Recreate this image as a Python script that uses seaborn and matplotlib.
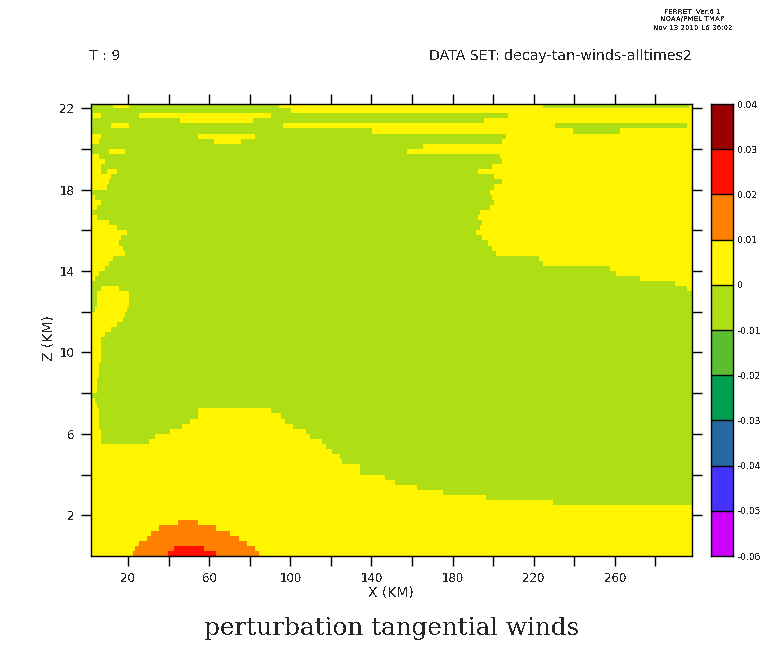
import numpy as np
import pandas as pd
import matplotlib.pyplot as plt
from matplotlib.colors import ListedColormap, BoundaryNorm
import seaborn as sns

# contour levels and colours of the key
levels = [-0.06, -0.05, -0.04, -0.03, -0.02, -0.01, 0, 0.01, 0.02, 0.03, 0.04]
level_labels = ["-0.06", "-0.05", "-0.04", "-0.03", "-0.02", "-0.01", "0", "0.01", "0.02", "0.03", "0.04"]
level_colors = ["#CC00FF", "#4433FF", "#2868A0", "#009E50", "#5DBD30", "#AEDE14",
                "#FFF500", "#FF8000", "#FF1000", "#990000"]

x_labels = [20, 60, 100, 140, 180, 220, 260]
x_ticks = [20, 40, 60, 80, 100, 120, 140, 160, 180, 200, 220, 240, 260, 280]
z_labels = [2, 6, 10, 14, 18, 22]
z_ticks = [2, 4, 6, 8, 10, 12, 14, 16, 18, 20, 22]

# height of each row of the field, top to bottom (KM)
z_rows = np.arange(22.125, 0, -0.25)

negative_spans = [
    [(1.5, 12.2), (21, 94.8), (224.6, 296.9)],
    [(1.5, 100)],
    [(1.5, 2.4), (6.2, 25.9), (90.2, 207.4)],
    [(1.5, 45), (82, 195)],
    [(1.5, 11.1), (21, 96.5), (231, 274), (275, 295)],
    [(1.5, 140), (240, 262)],
    [(6.5, 54), (83, 206.5)],
    [(5.4, 62), (76, 204)],
    [(1.5, 165)],
    [(1.5, 10.6), (18.5, 157)],
    [(6, 203)],
    [(8.6, 204)],
    [(7, 199.5)],
    [(6.2, 9.5), (14.9, 192.6)],
    [(11.9, 200.8)],
    [(10.3, 204.5)],
    [(9.1, 200.8)],
    [(1.5, 198.3)],
    [(3.7, 199)],
    [(6.2, 200)],
    [(4.5, 198)],
    [(2.9, 193.5)],
    [(4.5, 192.6)],
    [(10.3, 194.7)],
    [(14.4, 193.4)],
    [(19.3, 191)],
    [(16.9, 194.2)],
    [(16, 197.5)],
    [(18, 199.6)],
    [(19, 201.6)],
    [(12.8, 222)],
    [(10.8, 224.6)],
    [(8.2, 257.5)],
    [(5.7, 260.7)],
    [(3.4, 272)],
    [(1.8, 289.5)],
    [(1.5, 6.2), (15.2, 295)],
    [(1.5, 4.9), (20.1, 298.5)],
    [(1.5, 4.9), (20.1, 298.5)],
    [(1.5, 4.9), (20.1, 298.5)],
    [(1.5, 3.7), (20, 298.5)],
    [(18.5, 298.5)],
    [(17.2, 298.5)],
    [(14.4, 298.5)],
    [(11.1, 298.5)],
    [(9, 298.5)],
    [(7, 298.5)],
    [(6.2, 298.5)],
    [(6.4, 298.5)],
    [(6.2, 298.5)],
    [(6.2, 298.5)],
    [(6, 298.5)],
    [(5.7, 298.5)],
    [(5.4, 298.5)],
    [(5, 298.5)],
    [(4.7, 298.5)],
    [(4.2, 298.5)],
    [(1.5, 298.5)],
    [(3.7, 298.5)],
    [(5, 298.5)],
    [(5.9, 54), (91, 298.5)],
    [(5.9, 54), (96, 298.5)],
    [(5.7, 50), (98, 298.5)],
    [(5.4, 46.4), (102, 298.5)],
    [(6.2, 40), (108, 298.5)],
    [(6.5, 33), (110, 298.5)],
    [(7, 30), (116, 298.5)],
    [(117.5, 298.5)],
    [(121, 298.5)],
    [(124.5, 298.5)],
    [(126, 298.5)],
    [(134.5, 298.5)],
    [(135, 298.5)],
    [(147, 298.5)],
    [(152, 298.5)],
    [(163, 298.5)],
    [(176, 298.5)],
    [(197, 298.5)],
    [(230, 298.5)],
]

# the warm blob at the bottom, per height (KM)
orange_spans = {1.625: (45, 54), 1.375: (35.7, 63), 1.125: (32, 70), 0.875: (30, 74),
                0.625: (26, 78), 0.375: (23.5, 82), 0.125: (22.6, 84)}
red_spans = {0.375: (43, 57), 0.125: (40, 63)}

# build the field on a 1 km column grid
x_cols = np.arange(2.0, 299.0, 1.0)
field = np.full((len(z_rows), len(x_cols)), 0.005)
for i, spans in enumerate(negative_spans):
    for a, b in spans:
        field[i, (x_cols >= a) & (x_cols <= b)] = -0.005
for i, z in enumerate(z_rows):
    if z in orange_spans:
        a, b = orange_spans[z]
        field[i, (x_cols >= a) & (x_cols <= b)] = 0.015
    if z in red_spans:
        a, b = red_spans[z]
        field[i, (x_cols >= a) & (x_cols <= b)] = 0.025
df = pd.DataFrame(field, index=z_rows, columns=x_cols)

sns.set_style("ticks")
plt.rcParams["font.family"] = ["DejaVu Sans"]
plt.rcParams["text.antialiased"] = False

W, H = 768, 662
fig = plt.figure(figsize=(W / 100, H / 100), dpi=100)

cmap = ListedColormap(level_colors)
norm = BoundaryNorm(levels, cmap.N)

# main panel
ax = fig.add_axes([90.5 / W, 1 - 556 / H, 601.5 / W, 452 / H])
sns.heatmap(df, ax=ax, cmap=cmap, norm=norm, cbar=False, xticklabels=False, yticklabels=False)


def xpos(km):
    return km - 1.5


def ypos(km):
    return (22.25 - km) / 0.25


ax.set_xlim(0, xpos(298))
ax.set_ylim(ypos(0), ypos(22.2))
ax.set_xticks([xpos(v) for v in x_ticks])
ax.set_xticklabels([str(v) if v in x_labels else "" for v in x_ticks], rotation=0, fontsize=8.5)
ax.set_yticks([ypos(v) for v in z_ticks])
ax.set_yticklabels([str(v) if v in z_labels else "" for v in z_ticks], rotation=0, fontsize=8.5)
ax.tick_params(top=True, right=True, length=7.5, width=1, color="black", pad=4)
ax.set_xlabel("")
ax.set_ylabel("")
for s in ax.spines.values():
    s.set_visible(True)
    s.set_linewidth(1)
    s.set_color("black")

# key
cax = fig.add_axes([711 / W, 1 - 556 / H, 22 / W, 452 / H])
mids = [(levels[i] + levels[i + 1]) / 2 for i in range(len(level_colors))]
key = pd.DataFrame({"v": mids[::-1]})
sns.heatmap(key, ax=cax, cmap=cmap, norm=norm, cbar=False, xticklabels=False, yticklabels=False,
            linewidths=0)
for i in range(1, len(level_colors)):
    cax.axhline(i, color="black", lw=1)
cax.yaxis.tick_right()
cax.set_yticks(range(len(levels)))
cax.set_yticklabels(level_labels[::-1], rotation=0, fontsize=6.5)
cax.tick_params(left=False, right=False, length=0, pad=3)
cax.set_ylabel("")
for s in cax.spines.values():
    s.set_visible(True)
    s.set_linewidth(1)
    s.set_color("black")

# header, axis names and title
fig.text(89 / W, 1 - 56 / H, "T : 9", fontsize=10.2, va="center", ha="left")
fig.text(429 / W, 1 - 56 / H, "DATA SET: decay-tan-winds-alltimes2", fontsize=10.2, va="center", ha="left")
fig.text(692.5 / W, 1 - 12 / H, "FERRET  Ver.6.1", fontsize=5.1, va="center", ha="center")
fig.text(692.5 / W, 1 - 19.5 / H, "NOAA/PMEL TMAP", fontsize=5.1, va="center", ha="center")
fig.text(692.5 / W, 1 - 28 / H, "Nov 13 2010 16:36:02", fontsize=5.1, va="center", ha="center")
fig.text(389 / W, 1 - 78 / H, ".", fontsize=5, va="center", ha="center")
fig.text(391 / W, 1 - 593 / H, "X (KM)", fontsize=10, va="center", ha="center")
fig.text(48 / W, 1 - 338 / H, "Z (KM)", fontsize=10, rotation=90, va="center", ha="center")
fig.text(392 / W, 1 - 629 / H, "perturbation tangential winds", fontsize=17.7,
         family="DejaVu Serif", va="center", ha="center")

fig.savefig("out.png", dpi=100)
